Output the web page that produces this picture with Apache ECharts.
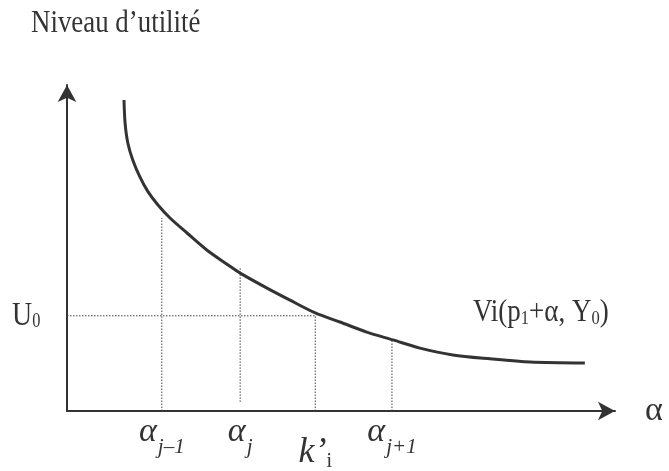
<!DOCTYPE html>
<html>
<head>
<meta charset="utf-8">
<script src="https://cdn.jsdelivr.net/npm/echarts@6/dist/echarts.min.js"></script>
<style>
  html, body { margin:0; padding:0; background:#fff; }
  #main { width:669px; height:471px; }
</style>
</head>
<body>
<div id="main"></div>
<script>
// courbe d'utilité indirecte (unités arbitraires 0..100)
var curveX = [10.4, 10.6, 11.1, 12.0, 13.3, 14.8, 16.6, 18.8, 21.9, 25.5, 29.4, 31.6, 36.5, 40.7, 45.3, 49.8, 54.7, 59.5, 64.4, 70.4, 77.2, 84.5, 94.5];
var curveY = [95.4, 88.3, 82.2, 77.0, 71.8, 67.2, 63.2, 59.2, 54.6, 49.4, 44.8, 42.3, 37.7, 34.0, 30.1, 27.3, 24.2, 21.8, 19.3, 17.2, 16.0, 15.0, 14.7];

// seuils sur l'axe des alpha
var alphaTicks = [17.3, 31.6, 45.3, 59.3];
var alphaLabels = ['{a|α}{s|j–1}', '{a|α}{s|j}', '{k|k’}{i|i}', '{a|α}{s|j+1}'];
var dropTops = [59.2, 44.2, 29.2, 21.8];
var dropBottoms = [0, 2.8, 0, 0];
var u0 = 29.2;

var serif = '"Liberation Serif", "Times New Roman", serif';
var chart = echarts.init(document.getElementById('main'));

var series = [{
  type: 'line',
  data: curveX.map(function (x, i) { return [x, curveY[i]]; }),
  smooth: 0.3,
  symbol: 'none',
  lineStyle: { color: '#333', width: 3 },
  silent: true
}, {
  // ligne horizontale U0
  type: 'line',
  data: [[0, u0], [alphaTicks[2], u0]],
  symbol: 'none',
  lineStyle: { color: '#444', width: 1, type: [1.5, 1.5] },
  silent: true
}];
alphaTicks.forEach(function (x, i) {
  series.push({
    type: 'line',
    data: [[x, dropBottoms[i]], [x, dropTops[i]]],
    symbol: 'none',
    lineStyle: { color: '#444', width: 1, type: [1.5, 1.5] },
    silent: true
  });
});

var option = {
  animation: false,
  grid: { left: 67, right: 54, top: 85, bottom: 60, outerBoundsMode: 'none', containLabel: false },
  xAxis: {
    type: 'value', min: 0, max: 100,
    name: 'α', nameLocation: 'end', nameGap: 30,
    nameTextStyle: { fontFamily: serif, fontSize: 34, color: '#333', verticalAlign: 'middle' },
    axisLine: { lineStyle: { color: '#333', width: 2 }, symbol: ['none', 'arrow'], symbolSize: [14, 17] },
    axisTick: { show: false },
    splitLine: { show: false },
    axisLabel: {
      customValues: alphaTicks,
      margin: 4,
      color: '#333',
      formatter: function (v) { return alphaLabels[alphaTicks.indexOf(v)] || ''; },
      rich: {
        a: { fontFamily: serif, fontStyle: 'italic', fontSize: 34, color: '#333', verticalAlign: 'top' },
        s: { fontFamily: serif, fontStyle: 'italic', fontSize: 21, color: '#333', verticalAlign: 'top', padding: [22, 0, 0, 1] },
        k: { fontFamily: serif, fontStyle: 'italic', fontSize: 36, color: '#333', verticalAlign: 'top', padding: [20, 0, 0, 0] },
        i: { fontFamily: serif, fontSize: 20, color: '#333', verticalAlign: 'top', padding: [37, 0, 0, 0] }
      }
    }
  },
  yAxis: {
    type: 'value', min: 0, max: 100,
    axisLine: { show: true, lineStyle: { color: '#333', width: 2 }, symbol: ['none', 'arrow'], symbolSize: [14, 17] },
    axisTick: { show: false },
    splitLine: { show: false },
    axisLabel: { show: false }
  },
  series: series
};
chart.setOption(option);

// textes (serif condensé)
var u0Pos = chart.convertToPixel({ gridIndex: 0 }, [0, u0]);
chart.setOption({
  graphic: [{
    type: 'text', x: 31, y: 24, scaleX: 0.84,
    style: { text: 'Niveau d’utilité', font: '32px ' + serif, fill: '#333', verticalAlign: 'middle' }
  }, {
    type: 'text', x: 12, y: u0Pos[1], scaleX: 0.82,
    style: {
      text: '{u|U}{z|0}', fill: '#333', verticalAlign: 'middle',
      rich: {
        u: { font: '34px ' + serif, fill: '#333' },
        z: { font: '20px ' + serif, fill: '#333', padding: [12, 0, 0, 0] }
      }
    }
  }, {
    type: 'text', x: 473, y: 313, scaleX: 0.87,
    style: {
      text: '{t|Vi(p}{z|1}{t|+α, Y}{z|0}{t|)}', fill: '#333', verticalAlign: 'middle',
      rich: {
        t: { font: '31px ' + serif, fill: '#333' },
        z: { font: '19px ' + serif, fill: '#333', padding: [12, 0, 0, 0] }
      }
    }
  }]
});
</script>
</body>
</html>
